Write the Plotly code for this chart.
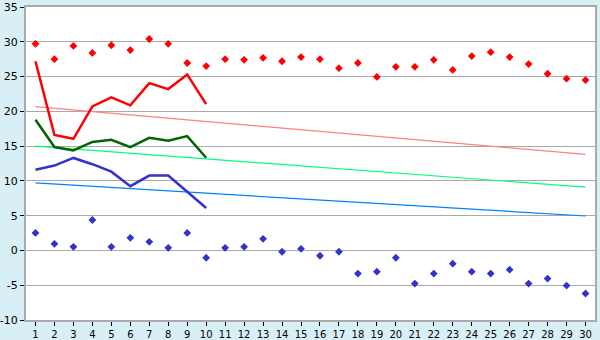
import plotly.graph_objects as go

days = list(range(1, 31))
line_days = list(range(1, 11))

red_points = [29.7, 27.5, 29.4, 28.4, 29.5, 28.8, 30.4, 29.7, 26.95, 26.5,
              27.5, 27.4, 27.7, 27.2, 27.8, 27.5, 26.2, 26.95, 24.95, 26.4,
              26.4, 27.4, 25.95, 27.95, 28.5, 27.8, 26.8, 25.4, 24.7, 24.5]
blue_points = [2.52, 0.95, 0.52, 4.38, 0.52, 1.81, 1.24, 0.38, 2.52, -1.05,
               0.38, 0.52, 1.67, -0.19, 0.24, -0.76, -0.19, -3.33, -3.05, -1.05,
               -4.76, -3.33, -1.9, -3.05, -3.33, -2.76, -4.76, -4.05, -5.05, -6.19]

red_line = [27.2, 16.6, 16.05, 20.7, 22.0, 20.86, 24.05, 23.2, 25.3, 21.04]
green_line = [18.8, 14.86, 14.38, 15.6, 15.9, 14.86, 16.2, 15.76, 16.43, 13.33]
blue_line = [11.6, 12.2, 13.3, 12.4, 11.33, 9.24, 10.76, 10.76, 8.43, 6.1]

trend_x = [1, 30]
pink_trend = [20.67, 13.8]
green_trend = [15.0, 9.1]
blue_trend = [9.71, 4.95]

y_ticks = [-10, -5, 0, 5, 10, 15, 20, 25, 30, 35]
y_labels = [str(v) for v in y_ticks]

fig = go.Figure()
fig.add_trace(go.Scatter(x=trend_x, y=pink_trend, mode="lines",
                         line=dict(color="#ff8080", width=1.2)))
fig.add_trace(go.Scatter(x=trend_x, y=green_trend, mode="lines",
                         line=dict(color="#00ff80", width=1.2)))
fig.add_trace(go.Scatter(x=trend_x, y=blue_trend, mode="lines",
                         line=dict(color="#0080ff", width=1.2)))
fig.add_trace(go.Scatter(x=line_days, y=red_line, mode="lines",
                         line=dict(color="#ff0000", width=2.5)))
fig.add_trace(go.Scatter(x=line_days, y=green_line, mode="lines",
                         line=dict(color="#006600", width=2.5)))
fig.add_trace(go.Scatter(x=line_days, y=blue_line, mode="lines",
                         line=dict(color="#3333cc", width=2.5)))
fig.add_trace(go.Scatter(x=days, y=red_points, mode="markers",
                         marker=dict(symbol="diamond", size=6, color="#ff0000")))
fig.add_trace(go.Scatter(x=days, y=blue_points, mode="markers",
                         marker=dict(symbol="diamond", size=6, color="#3333cc")))

fig.update_layout(
    width=600, height=340,
    margin=dict(l=26, r=5, t=7, b=20, autoexpand=False),
    paper_bgcolor="#d9eff6",
    plot_bgcolor="#ffffff",
    showlegend=False,
    font=dict(family="DejaVu Sans", size=10, color="#000000"),
)
fig.update_xaxes(
    range=[0.5, 30.5], tickmode="array", tickvals=days,
    ticktext=[str(d) for d in days],
    showgrid=False, zeroline=False, automargin=False,
    showline=True, linecolor="#aaaaaa", linewidth=2, mirror=True,
    ticks="outside", ticklen=4, tickcolor="#000000", tickwidth=1,
    tickfont=dict(size=10),
)
fig.update_yaxes(
    range=[-10, 35], tickmode="array", tickvals=y_ticks, ticktext=y_labels,
    showgrid=True, gridcolor="#aaaaaa", gridwidth=1,
    zeroline=False, automargin=False,
    showline=True, linecolor="#aaaaaa", linewidth=2, mirror=True,
    ticks="outside", ticklen=4, tickcolor="#000000", tickwidth=1,
    tickfont=dict(size=11),
)

fig.write_html("out.html")
